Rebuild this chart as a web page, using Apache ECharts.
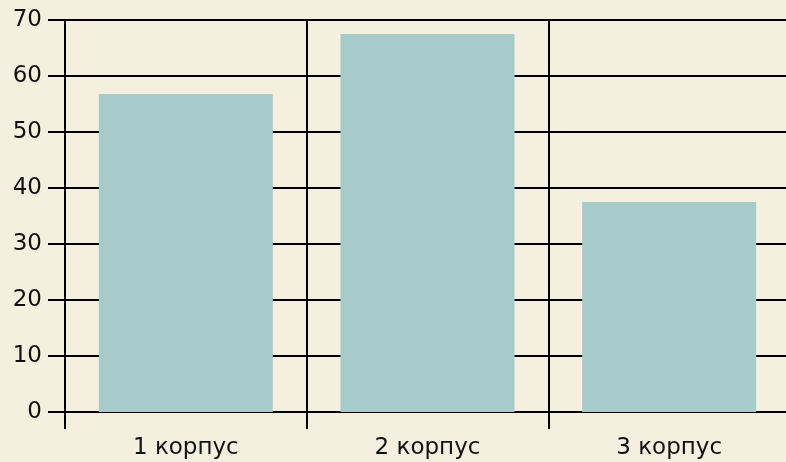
<!DOCTYPE html>
<html>
<head>
<meta charset="utf-8">
<script src="https://cdn.jsdelivr.net/npm/echarts@6/dist/echarts.min.js"></script>
<style>
html,body{margin:0;padding:0;background:#f5efe0;overflow:hidden;width:786px;height:462px;}
#c{width:790px;height:462px;}
</style>
</head>
<body>
<div id="c"></div>
<script>
const categories = ['1 корпус', '2 корпус', '3 корпус'];
const values = [56.8, 67.5, 37.5];
const yTicks = { min: 0, max: 70, interval: 10 };

const chart = echarts.init(document.getElementById('c'), null, { renderer: 'canvas' });
const font = 'DejaVu Sans';
chart.setOption({
  backgroundColor: '#f5efe0',
  animation: false,
  grid: { left: 65, right: 0, top: 20, bottom: 50, containLabel: false },
  xAxis: {
    type: 'category',
    data: categories,
    boundaryGap: true,
    axisLine: { show: true, lineStyle: { color: '#000', width: 2 } },
    axisTick: { show: true, length: 17, lineStyle: { color: '#000', width: 2 } },
    splitLine: { show: true, lineStyle: { color: '#000', width: 2 } },
    axisLabel: { color: '#111', fontSize: 23, fontFamily: font, margin: 25 }
  },
  yAxis: {
    type: 'value',
    min: yTicks.min, max: yTicks.max, interval: yTicks.interval,
    axisLine: { show: true, lineStyle: { color: '#000', width: 2 } },
    axisTick: { show: true, length: 17, lineStyle: { color: '#000', width: 2 } },
    splitLine: { show: true, lineStyle: { color: '#000', width: 2 } },
    axisLabel: { color: '#111', fontSize: 23, fontFamily: font, margin: 23 }
  },
  series: [{
    type: 'bar',
    data: values,
    barCategoryGap: '28%',
    itemStyle: { color: '#a6cbca' }
  }]
});
</script>
</body>
</html>
